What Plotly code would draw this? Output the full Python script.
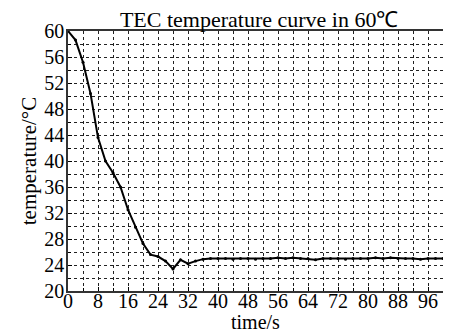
import plotly.graph_objects as go

time_s = [0, 2, 4, 6, 8, 10, 12, 14, 16, 18, 20, 22, 24, 26, 28, 30, 32, 34, 36, 38,
          40, 42, 44, 46, 48, 50, 52, 54, 56, 58, 60, 62, 64, 66, 68, 70, 72, 74, 76, 78,
          80, 82, 84, 86, 88, 90, 92, 94, 96, 98, 100]
temperature = [60.0, 58.6, 55.2, 50.4, 43.6, 40.0, 38.2, 36.0, 32.5, 29.8, 27.3, 25.6, 25.3, 24.6, 23.4, 24.8, 24.2, 24.6, 24.9, 25.0,
               25.0, 25.0, 24.9, 25.0, 25.0, 24.9, 25.0, 25.0, 25.1, 25.0, 25.1, 25.0, 25.0, 24.8, 25.0, 25.0, 25.0, 24.9, 25.0, 25.0,
               25.0, 25.1, 25.0, 25.1, 25.0, 25.0, 25.0, 24.9, 25.0, 25.0, 25.0]

x_ticks = [0, 8, 16, 24, 32, 40, 48, 56, 64, 72, 80, 88, 96]
y_ticks = [20, 24, 28, 32, 36, 40, 44, 48, 52, 56, 60]

FONT = "Liberation Serif"

fig = go.Figure()
fig.add_trace(go.Scatter(x=time_s, y=temperature, mode="lines+markers",
                         line=dict(color="black", width=2),
                         marker=dict(color="black", size=3),
                         showlegend=False))

grid = dict(showgrid=True, gridcolor="#222222", gridwidth=1, griddash="dot")
fig.update_xaxes(range=[0, 100], tickmode="array", tickvals=x_ticks,
                 ticks="inside", ticklen=4, tickcolor="black", automargin=False,
                 ticklabelstandoff=-9,
                 showline=True, linecolor="#333333", linewidth=1.5, mirror=True,
                 minor=dict(dtick=4, tick0=0, showgrid=True, gridcolor="#222222",
                            griddash="dot", ticks="inside", ticklen=3, tickcolor="black"),
                 zeroline=False,
                 tickfont=dict(family=FONT, size=20, color="black"),
                 **grid)
fig.update_yaxes(range=[20, 60], tickmode="array", tickvals=y_ticks,
                 ticks="inside", ticklen=4, tickcolor="black", automargin=False,
                 ticklabelstandoff=-2,
                 showline=True, linecolor="#333333", linewidth=1.5, mirror=True,
                 minor=dict(dtick=2, tick0=20, showgrid=True, gridcolor="#222222",
                            griddash="dot", ticks="inside", ticklen=3, tickcolor="black"),
                 zeroline=False,
                 tickfont=dict(family=FONT, size=20, color="black"),
                 title=dict(text="temperature/°C", font=dict(family=FONT, size=21, color="black"), standoff=2),
                 **grid)

fig.update_layout(
    width=443, height=326,
    margin=dict(l=60, r=8, t=23, b=43),
    paper_bgcolor="white", plot_bgcolor="white",
    title=dict(text="TEC temperature curve in 60℃", x=0.567, xanchor="center",
               y=0.965, yanchor="middle",
               font=dict(family=FONT, size=22, color="black")),
    annotations=[dict(text="time/s", xref="paper", yref="paper", x=0.5, y=-0.12,
                      xanchor="center", yanchor="middle", showarrow=False,
                      font=dict(family=FONT, size=20, color="black"))],
)
fig.write_html("out.html")
